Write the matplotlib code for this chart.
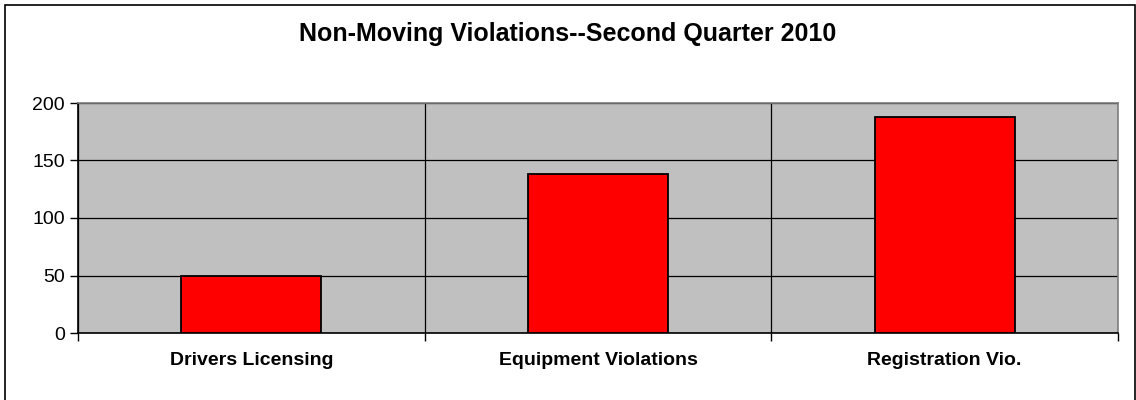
import matplotlib
matplotlib.use("Agg")
import matplotlib.pyplot as plt
from matplotlib.patches import Rectangle
import numpy as np

categories = ["Drivers Licensing", "Equipment Violations", "Registration Vio."]
values = [50, 138, 188]
yticks = [0, 50, 100, 150, 200]
title = "Non-Moving Violations--Second Quarter 2010"

plt.rcParams['font.family'] = ['Liberation Sans', 'DejaVu Sans']

W, H = 1136, 400
fig = plt.figure(figsize=(W / 100, H / 100), dpi=100)
fig.patch.set_facecolor('white')

# outer chart border
fig.patches.append(Rectangle((5 / W, -0.01), (1135 - 5) / W, (H - 5) / H + 0.01,
                             transform=fig.transFigure, fill=False,
                             edgecolor='black', linewidth=1.2))

left, right, top, bottom = 78, 1118, 103, 333
ax = fig.add_axes([left / W, 1 - bottom / H, (right - left) / W, (bottom - top) / H])
ax.set_facecolor('#c0c0c0')

x = np.arange(len(categories))
ax.bar(x, values, width=0.404, color='#ff0000', edgecolor='black', linewidth=1.3, zorder=3)

ax.set_xlim(-0.5, len(categories) - 0.5)
ax.set_ylim(0, 200)
ax.set_yticks(yticks)
ax.set_yticklabels([str(v) for v in yticks], fontsize=14)

# category boundary ticks and vertical gridlines
bounds = np.arange(len(categories) + 1) - 0.5
ax.set_xticks(bounds)
ax.set_xticklabels([''] * len(bounds))
ax.set_xticks(x, minor=True)
ax.set_xticklabels(categories, minor=True, fontsize=14, fontweight='bold')
ax.tick_params(axis='x', which='minor', length=0, pad=14)
ax.tick_params(axis='x', which='major', length=6, width=1, color='black', direction='out')
ax.tick_params(axis='y', length=6, width=1, color='black', direction='out', pad=3.5)

ax.grid(True, which='major', axis='both', color='black', linewidth=0.9, zorder=1)
ax.set_axisbelow(True)

for s in ['top', 'right']:
    ax.spines[s].set_color('#808080')
    ax.spines[s].set_linewidth(1.2)
for s in ['left', 'bottom']:
    ax.spines[s].set_color('black')
    ax.spines[s].set_linewidth(1.2)

fig.text(0.5, 1 - 34 / H, title, ha='center', va='center', fontsize=18, fontweight='bold')

fig.savefig('out.png', dpi=100)
